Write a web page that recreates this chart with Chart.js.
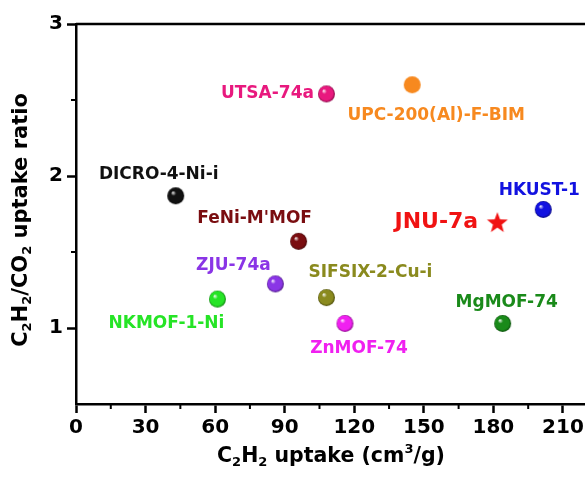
<!DOCTYPE html>
<html>
<head>
<meta charset="utf-8">
<script src="https://cdn.jsdelivr.net/npm/chart.js@4"></script>
<style>
  body { margin: 0; background: #fff; }
  #wrap { width: 585px; height: 477px; position: relative; }
</style>
</head>
<body>
<div id="wrap"><canvas id="chart"></canvas></div>
<script>
const NAMES = ['DICRO-4-Ni-i', 'NKMOF-1-Ni', 'ZJU-74a', "FeNi-M'MOF", 'UTSA-74a', 'SIFSIX-2-Cu-i',
               'ZnMOF-74', 'UPC-200(Al)-F-BIM', 'JNU-7a', 'MgMOF-74', 'HKUST-1'];
const UPTAKE = [43, 61, 86, 96, 108, 108, 116, 145, 181.7, 184, 201.5];   // C2H2 uptake, cm3/g
const RATIO  = [1.87, 1.19, 1.29, 1.57, 2.54, 1.20, 1.03, 2.60, 1.69, 1.03, 1.78];
const COLORS = ['#111111', '#26e426', '#8a35e6', '#7a0d10', '#e8197e', '#8a8a1e',
                '#f020f0', '#f7891f', '#f01212', '#1a8a1a', '#1212e0'];
const STYLES = ['ball', 'ball', 'ball', 'ball', 'ball', 'ball', 'ball', 'flat', 'star', 'ball', 'ball'];

const X_TICKS = [0, 30, 60, 90, 120, 150, 180, 210];
const X_MINOR = [15, 45, 75, 105, 135, 165, 195];
const Y_TICKS = [1, 2, 3];
const Y_MINOR = [1.5, 2.5];

// label placement: offset of the label centre from its point, in px
const LABEL_OFFSETS = [[-17, -21], [-51, 24], [-42, -18], [-44, -23], [-59, 0], [44, -25],
                       [14, 25], [24, 31], [-61, -1], [4, -21], [-4, -19]];

const FONT = 'DejaVu Sans';

function shade(hex, f) {
    const n = parseInt(hex.slice(1), 16);
    const r = Math.round(((n >> 16) & 255) * f);
    const g = Math.round(((n >> 8) & 255) * f);
    const b = Math.round((n & 255) * f);
    return `rgb(${r},${g},${b})`;
}

function makeBall(color, r) {
    const c = document.createElement('canvas');
    c.width = c.height = 2 * r + 2;
    const ctx = c.getContext('2d');
    const cx = r + 1, cy = r + 1;
    const g = ctx.createRadialGradient(cx - r * 0.35, cy - r * 0.4, 0, cx, cy, r);
    g.addColorStop(0, '#ffffff');
    g.addColorStop(0.3, color);
    g.addColorStop(0.8, color);
    g.addColorStop(1, shade(color, 0.6));
    ctx.fillStyle = g;
    ctx.beginPath();
    ctx.arc(cx, cy, r, 0, Math.PI * 2);
    ctx.fill();
    return c;
}

function makeFlat(color, r) {
    const c = document.createElement('canvas');
    c.width = c.height = 2 * r + 2;
    const ctx = c.getContext('2d');
    ctx.fillStyle = color;
    ctx.beginPath();
    ctx.arc(r + 1, r + 1, r, 0, Math.PI * 2);
    ctx.fill();
    return c;
}

function makeStar(color, R) {
    const c = document.createElement('canvas');
    c.width = c.height = 2 * R + 2;
    const ctx = c.getContext('2d');
    const cx = R + 1, cy = R + 1, r = R * 0.42;
    ctx.fillStyle = color;
    ctx.beginPath();
    for (let i = 0; i < 10; i++) {
        const rad = i % 2 === 0 ? R : r;
        const a = -Math.PI / 2 + i * Math.PI / 5;
        ctx.lineTo(cx + rad * Math.cos(a), cy + rad * Math.sin(a));
    }
    ctx.closePath();
    ctx.fill();
    return c;
}

const pointImages = STYLES.map((s, i) => {
    if (s === 'star') return makeStar(COLORS[i], 11);
    if (s === 'flat') return makeFlat(COLORS[i], 8.5);
    return makeBall(COLORS[i], 8.5);
});

// text with sub/superscript parts: [[text, 'n'|'sub'|'sup'], ...]
function richWidth(ctx, parts, size) {
    let w = 0;
    parts.forEach(([t, k]) => {
        ctx.font = `bold ${k === 'n' ? size : Math.round(size * 0.62)}px "${FONT}"`;
        w += ctx.measureText(t).width;
    });
    return w;
}
function drawRich(ctx, parts, size, x, y) {
    let cx = x;
    parts.forEach(([t, k]) => {
        const s = k === 'n' ? size : Math.round(size * 0.62);
        ctx.font = `bold ${s}px "${FONT}"`;
        let dy = 0;
        if (k === 'sub') dy = size * 0.28;
        if (k === 'sup') dy = -size * 0.38;
        ctx.fillText(t, cx, y + dy);
        cx += ctx.measureText(t).width;
    });
}

const X_TITLE = [['C', 'n'], ['2', 'sub'], ['H', 'n'], ['2', 'sub'], [' uptake (cm', 'n'], ['3', 'sup'], ['/g)', 'n']];
const Y_TITLE = [['C', 'n'], ['2', 'sub'], ['H', 'n'], ['2', 'sub'], ['/CO', 'n'], ['2', 'sub'], [' uptake ratio', 'n']];

const decorPlugin = {
    id: 'decor',
    afterDraw(chart) {
        const ctx = chart.ctx;
        const xs = chart.scales.x, ys = chart.scales.y;
        const area = chart.chartArea;
        ctx.save();
        ctx.strokeStyle = '#000';
        ctx.lineWidth = 2.5;
        // top frame line
        ctx.beginPath();
        ctx.moveTo(area.left, area.top);
        ctx.lineTo(chart.width, area.top);
        ctx.stroke();
        // minor ticks
        ctx.lineWidth = 2;
        X_MINOR.forEach(v => {
            const px = xs.getPixelForValue(v);
            ctx.beginPath();
            ctx.moveTo(px, area.bottom);
            ctx.lineTo(px, area.bottom + 5);
            ctx.stroke();
        });
        Y_MINOR.forEach(v => {
            const py = ys.getPixelForValue(v);
            ctx.beginPath();
            ctx.moveTo(area.left, py);
            ctx.lineTo(area.left - 5, py);
            ctx.stroke();
        });

        // point labels
        const meta = chart.getDatasetMeta(0);
        ctx.textAlign = 'center';
        ctx.textBaseline = 'middle';
        meta.data.forEach((pt, i) => {
            const size = NAMES[i] === 'JNU-7a' ? 22 : 17;
            ctx.font = `bold ${size}px "${FONT}"`;
            ctx.fillStyle = COLORS[i];
            ctx.fillText(NAMES[i], pt.x + LABEL_OFFSETS[i][0], pt.y + LABEL_OFFSETS[i][1]);
        });

        // axis titles
        ctx.fillStyle = '#000';
        ctx.textAlign = 'left';
        ctx.textBaseline = 'middle';
        const xw = richWidth(ctx, X_TITLE, 20.5);
        drawRich(ctx, X_TITLE, 20.5, 331 - xw / 2, 457);
        ctx.translate(22, 220);
        ctx.rotate(-Math.PI / 2);
        const yw = richWidth(ctx, Y_TITLE, 21);
        drawRich(ctx, Y_TITLE, 21, -yw / 2, 0);
        ctx.restore();
    }
};

new Chart(document.getElementById('chart').getContext('2d'), {
    type: 'scatter',
    data: {
        datasets: [{
            data: UPTAKE.map((x, i) => ({ x: x, y: RATIO[i] })),
            pointStyle: pointImages,
            pointRadius: 9,
            backgroundColor: COLORS,
            borderColor: COLORS,
            clip: false
        }]
    },
    options: {
        responsive: true,
        maintainAspectRatio: false,
        animation: false,
        layout: { autoPadding: false, padding: { top: 24, right: 0, left: 0, bottom: 0 } },
        plugins: {
            legend: { display: false },
            tooltip: { enabled: false }
        },
        scales: {
            x: {
                type: 'linear',
                min: 0,
                max: 219.5,
                afterBuildTicks: scale => { scale.ticks = X_TICKS.map(v => ({ value: v })); },
                afterFit: scale => {
                    scale.height = 73;
                    scale.paddingLeft = 0;
                    scale.paddingRight = 0;
                },
                ticks: {
                    color: '#000',
                    padding: 3,
                    maxRotation: 0,
                    font: { family: FONT, weight: 'bold', size: 20 }
                },
                grid: { drawOnChartArea: false, tickLength: 9, tickWidth: 2.5, tickColor: '#000' },
                border: { color: '#000', width: 2.5 }
            },
            y: {
                type: 'linear',
                min: 0.5,
                max: 3,
                afterBuildTicks: scale => { scale.ticks = Y_TICKS.map(v => ({ value: v })); },
                afterFit: scale => {
                    scale.width = 76;
                    scale.paddingTop = 0;
                    scale.paddingBottom = 0;
                },
                ticks: {
                    color: '#000',
                    padding: 4,
                    font: { family: FONT, weight: 'bold', size: 20 }
                },
                grid: { drawOnChartArea: false, tickLength: 9, tickWidth: 2.5, tickColor: '#000' },
                border: { color: '#000', width: 2.5 }
            }
        }
    },
    plugins: [decorPlugin]
});
</script>
</body>
</html>
